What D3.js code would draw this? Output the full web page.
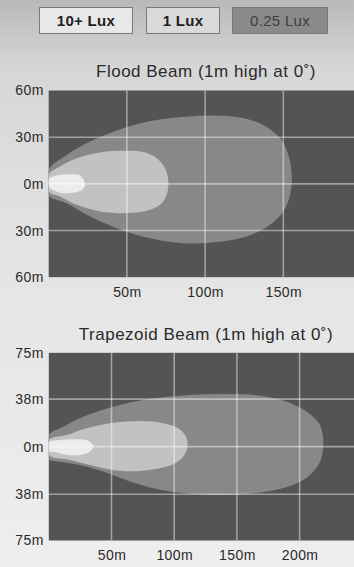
<!DOCTYPE html>
<html><head><meta charset="utf-8">
<script src="https://cdn.jsdelivr.net/npm/d3@7"></script>
<style>html,body{margin:0;padding:0;overflow:hidden;}svg{display:block;}</style>
</head><body>
<svg id="c" width="354" height="567"></svg>
<script>
// ---- data ----
const legendLabels = ["10+ Lux", "1 Lux", "0.25 Lux"];
const floodTitle = "Flood Beam (1m high at 0\u02DA)";
const trapTitle = "Trapezoid Beam (1m high at 0\u02DA)";
const floodXTicks = [50, 100, 150];
const floodYTicks = [60, 30, 0, -30, -60];
const trapXTicks = [50, 100, 150, 200];
const trapYTicks = [75, 38, 0, -38, -75];

// contour outlines (metres: distance ahead, lateral)
const floodLux025 = [[0,9],[11.5,18.6],[26.4,27.2],[47.7,35.8],[69,41.1],[90.3,43.3],[105.2,43.9],[122.3,42.6],[137.2,37.9],[147.9,29.4],[153.2,18.6],[155.4,5.8],[154.3,-7.1],[150,-17.7],[141.5,-26.3],[126.6,-33.8],[107.4,-37.4],[86.1,-38.1],[64.8,-34.9],[43.5,-28.5],[26.4,-20.9],[11.5,-12.4],[0,-7.1]];
const floodLux1 = [[0,6.2],[7.2,11.2],[17.9,16.5],[32.8,20.2],[49.9,21.2],[60.5,20.4],[69.1,16.5],[74.4,10.1],[76.5,1.5],[75.4,-7.1],[71.2,-13.5],[62.7,-17.3],[49.9,-18.8],[32.8,-17.7],[17.9,-13.5],[7.2,-8.1],[0,-4.9]];
const floodLux10 = [[0,3.2],[5.1,5.4],[13.6,6.2],[20,5.4],[23.2,0.4],[22.1,-3.2],[17.9,-5.3],[9.3,-6],[2.9,-3.9],[0,-1.7]];
const trapLux025 = [[0,9.3],[11.6,16],[27.5,23.9],[51.4,31.9],[80.7,38],[112.6,41.2],[141.9,42],[168.4,40.7],[189.7,35.9],[205.7,27.9],[216.3,17.3],[218.9,1.4],[216.3,-12],[208.3,-22.6],[195,-30.5],[173.8,-35.9],[147.1,-38.5],[117.9,-38],[88.7,-34.5],[64.8,-27.9],[43.5,-19.9],[24.9,-14.6],[8.9,-12],[0,-9.8]];
const trapLux1 = [[0,5.3],[14.3,9.3],[30.2,14.7],[48.8,18.7],[72.7,20.5],[91.3,18.7],[103.3,14.7],[110,6.7],[110,-2.6],[104.6,-10.6],[94,-15.9],[72.7,-19.4],[51.4,-18.6],[32.9,-14.6],[16.9,-10.6],[0,-6.6]];
const trapLux10 = [[0,3.5],[8.9,5.3],[22.2,5.9],[31.5,4.8],[35.5,0.6],[32.9,-4],[24.9,-6.6],[14.3,-6.6],[6.3,-4.5],[0,-3.2]];

// ---- drawing ----
const svg = d3.select("#c");
const W = 354, H = 567;
const FONT = "'Liberation Sans', Arial, sans-serif";
const defs = svg.append("defs");
const g = defs.append("linearGradient").attr("id","bg").attr("x1",0).attr("y1",0).attr("x2",0).attr("y2",1);
g.append("stop").attr("offset","0%").attr("stop-color","#b9b9bb");
g.append("stop").attr("offset","12%").attr("stop-color","#d6d6d6");
g.append("stop").attr("offset","45%").attr("stop-color","#e4e4e4");
g.append("stop").attr("offset","100%").attr("stop-color","#eeeeee");
svg.append("rect").attr("width",W).attr("height",H).attr("fill","url(#bg)");

// legend
const legend = [
  {x:39, w:93, fill:"#e8e8e8", text:"#1e1e1e", weight:"bold"},
  {x:146, w:73, fill:"#d9d9d9", text:"#1e1e1e", weight:"bold"},
  {x:232, w:95, fill:"#8a8a8a", text:"#3e3e3e", weight:"normal"}
];
legend.forEach((L,i)=>{
  svg.append("rect").attr("x",L.x+0.5).attr("y",7.5).attr("width",L.w).attr("height",26)
    .attr("fill",L.fill).attr("stroke","#7a7a7a").attr("stroke-width",1);
  svg.append("text").attr("x",L.x+L.w/2+0.5).attr("y",26).attr("text-anchor","middle")
    .attr("font-family",FONT).attr("font-size",15).attr("font-weight",L.weight)
    .attr("letter-spacing",0.3)
    .attr("fill",L.text).text(legendLabels[i]);
});

const fills = ["#888889","#c2c2c2","#ececec"];

function chart(id, title, titleY, xDom, xRange, yDom, yRange, xTicks, yTicks, shapes, xLabY){
  const x = d3.scaleLinear().domain(xDom).range(xRange);
  const y = d3.scaleLinear().domain(yDom).range(yRange);
  const left = x(0), top = y(yDom[1]), bottom = y(yDom[0]);
  const cp = defs.append("clipPath").attr("id",id);
  cp.append("rect").attr("x",left).attr("y",top).attr("width",W-left).attr("height",bottom-top);
  svg.append("text").attr("x",206).attr("y",titleY).attr("text-anchor","middle")
    .attr("font-family",FONT).attr("font-size",17).attr("letter-spacing",0.5).attr("fill","#2a2a2a").text(title);
  svg.append("rect").attr("x",left).attr("y",top).attr("width",W-left).attr("height",bottom-top).attr("fill","#545456");
  const gp = svg.append("g").attr("clip-path",`url(#${id})`);
  const line = d3.line().x(d=>x(d[0])).y(d=>y(d[1])).curve(d3.curveCatmullRomClosed.alpha(0.5));
  shapes.forEach((s,i)=>{
    gp.append("path").attr("d",line(s)).attr("fill",fills[i]);
  });
  // gridlines
  const gridY = yTicks.filter(t=>t!==yDom[0] && t!==yDom[1]);
  gp.selectAll(".gy").data(gridY).enter().append("line")
    .attr("x1",left).attr("x2",W).attr("y1",d=>y(d)).attr("y2",d=>y(d))
    .attr("stroke","rgba(255,255,255,0.45)").attr("stroke-width",1.6);
  gp.selectAll(".gx").data(xTicks).enter().append("line")
    .attr("x1",d=>x(d)).attr("x2",d=>x(d)).attr("y1",top).attr("y2",bottom)
    .attr("stroke","rgba(255,255,255,0.45)").attr("stroke-width",1.6);
  // axes via d3 axis
  const ya = d3.axisLeft(y).tickValues(yTicks).tickSize(0).tickPadding(5).tickFormat(d=>Math.abs(d)+"m");
  const yg = svg.append("g").attr("transform",`translate(${left},0)`).call(ya);
  yg.select(".domain").remove();
  yg.selectAll("text").attr("font-family",FONT).attr("font-size",14).attr("letter-spacing",0.4).attr("fill","#2a2a2a");
  const xa = d3.axisBottom(x).tickValues(xTicks).tickSize(0).tickPadding(0).tickFormat(d=>d+"m");
  const xg = svg.append("g").attr("transform",`translate(0,${xLabY})`).call(xa);
  xg.select(".domain").remove();
  xg.selectAll("text").attr("font-family",FONT).attr("font-size",14).attr("letter-spacing",0.4).attr("fill","#2a2a2a").attr("dy","0.35em").attr("y",0);
}

chart("cf", floodTitle, 77, [0,150], [48.7,283.3], [-60,60], [277.2,90.5], floodXTicks, floodYTicks, [floodLux025, floodLux1, floodLux10], 292);
chart("ct", trapTitle, 340, [0,200], [48.8,299.6], [-75,75], [540.5,352.8], trapXTicks, trapYTicks, [trapLux025, trapLux1, trapLux10], 555);
</script>
</body></html>
